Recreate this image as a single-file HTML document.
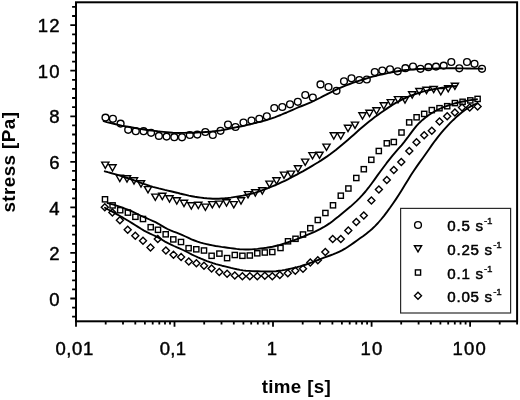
<!DOCTYPE html>
<html lang="en"><head><meta charset="utf-8"><title>stress vs time</title>
<style>html,body{margin:0;padding:0;background:#fff}svg{display:block}</style></head>
<body>
<svg width="520" height="400" viewBox="0 0 520 400">
<rect width="520" height="400" fill="#fff"/>
<g fill="none" stroke="#000" stroke-width="1.9" stroke-linecap="round" stroke-linejoin="round">
<path d="M103.7,121.2 L106.7,122.1 L109.7,122.8 L112.7,123.5 L115.7,124.2 L118.7,124.9 L121.7,125.6 L124.7,126.2 L127.7,126.8 L130.7,127.3 L133.7,127.8 L136.7,128.4 L139.7,128.9 L142.7,129.3 L145.7,129.8 L148.7,130.2 L151.7,130.6 L154.7,130.9 L157.7,131.3 L160.7,131.6 L163.7,131.9 L166.7,132.2 L169.7,132.5 L172.7,132.8 L175.7,132.9 L178.7,133.0 L181.7,132.9 L184.7,132.9 L187.7,132.8 L190.7,132.8 L193.7,132.7 L196.7,132.6 L199.7,132.4 L202.7,132.2 L205.7,132.0 L208.7,131.8 L211.7,131.5 L214.7,131.1 L217.7,130.8 L220.7,130.4 L223.7,129.9 L226.7,129.3 L229.7,128.6 L232.7,128.0 L235.7,127.4 L238.7,126.8 L241.7,126.3 L244.7,125.6 L247.7,124.9 L250.7,124.2 L253.7,123.4 L256.7,122.7 L259.7,121.9 L262.7,121.2 L265.7,120.3 L268.7,119.4 L271.7,118.4 L274.7,117.4 L277.7,116.2 L280.7,115.0 L283.7,113.7 L286.7,112.5 L289.7,111.2 L292.7,109.8 L295.7,108.5 L298.7,107.2 L301.7,106.0 L304.7,104.8 L307.7,103.6 L310.7,102.4 L313.7,101.0 L316.7,99.5 L319.7,98.0 L322.7,96.4 L325.7,94.9 L328.7,93.3 L331.7,91.8 L334.7,90.4 L337.7,88.9 L340.7,87.6 L343.7,86.3 L346.7,85.2 L349.7,84.0 L352.7,82.9 L355.7,81.9 L358.7,80.9 L361.7,79.9 L364.7,79.0 L367.7,78.1 L370.7,77.2 L373.7,76.4 L376.7,75.7 L379.7,74.9 L382.7,74.2 L385.7,73.6 L388.7,72.9 L391.7,72.3 L394.7,71.7 L397.7,71.2 L400.7,70.7 L403.7,70.3 L406.7,69.9 L409.7,69.7 L412.7,69.4 L415.7,69.2 L418.7,69.0 L421.7,68.9 L424.7,68.8 L427.7,68.7 L430.7,68.6 L433.7,68.6 L436.7,68.5 L439.7,68.4 L442.7,68.4 L445.7,68.4 L448.7,68.3 L451.7,68.3 L454.7,68.3 L457.7,68.4 L460.7,68.4 L463.7,68.4 L466.7,68.5 L469.7,68.5 L472.7,68.6 L475.7,68.6 L478.7,68.6 L481.7,68.7 L482.5,68.7"/>
<path d="M104.8,171.3 L107.8,172.2 L110.8,173.0 L113.8,173.8 L116.8,174.7 L119.8,175.6 L122.8,176.5 L125.8,177.5 L128.8,178.5 L131.8,179.5 L134.8,180.6 L137.8,181.7 L140.8,182.8 L143.8,183.9 L146.8,184.9 L149.8,185.9 L152.8,186.8 L155.8,187.6 L158.8,188.4 L161.8,189.1 L164.8,189.9 L167.8,190.6 L170.8,191.3 L173.8,192.0 L176.8,192.7 L179.8,193.5 L182.8,194.2 L185.8,194.9 L188.8,195.6 L191.8,196.2 L194.8,196.8 L197.8,197.2 L200.8,197.6 L203.8,198.0 L206.8,198.3 L209.8,198.5 L212.8,198.7 L215.8,198.7 L218.8,198.7 L221.8,198.5 L224.8,198.3 L227.8,198.0 L230.8,197.6 L233.8,197.1 L236.8,196.6 L239.8,196.1 L242.8,195.6 L245.8,195.0 L248.8,194.3 L251.8,193.6 L254.8,192.8 L257.8,191.8 L260.8,190.8 L263.8,189.7 L266.8,188.6 L269.8,187.4 L272.8,186.2 L275.8,185.0 L278.8,183.6 L281.8,182.2 L284.8,180.8 L287.8,179.3 L290.8,177.7 L293.8,176.1 L296.8,174.6 L299.8,172.9 L302.8,171.3 L305.8,169.6 L308.8,167.9 L311.8,166.1 L314.8,164.3 L317.8,162.5 L320.8,160.6 L323.8,158.6 L326.8,156.6 L329.8,154.5 L332.8,152.2 L335.8,149.9 L338.8,147.4 L341.8,144.9 L344.8,142.4 L347.8,139.9 L350.8,137.3 L353.8,134.7 L356.8,132.0 L359.8,129.3 L362.8,126.7 L365.8,124.2 L368.8,121.8 L371.8,119.4 L374.8,117.1 L377.8,114.9 L380.8,112.8 L383.8,110.7 L386.8,108.6 L389.8,106.6 L392.8,104.7 L395.8,102.9 L398.8,101.3 L401.8,99.7 L404.8,98.3 L407.8,96.9 L410.8,95.7 L413.8,94.6 L416.8,93.5 L419.8,92.6 L422.8,91.7 L425.8,90.9 L428.8,90.2 L431.8,89.6 L434.8,89.0 L437.8,88.4 L440.8,87.9 L443.8,87.5 L446.8,87.0 L449.8,86.6 L452.8,86.2 L455.8,86.0 L456.0,85.8"/>
<path d="M107.5,203.0 L110.5,203.9 L113.5,204.7 L116.5,205.6 L119.5,206.6 L122.5,207.6 L125.5,208.8 L128.5,210.0 L131.5,211.2 L134.5,212.6 L137.5,214.0 L140.5,215.5 L143.5,216.9 L146.5,218.2 L149.5,219.5 L152.5,220.8 L155.5,222.2 L158.5,223.8 L161.5,225.6 L164.5,227.4 L167.5,229.0 L170.5,230.4 L173.5,231.6 L176.5,232.7 L179.5,233.9 L182.5,235.2 L185.5,236.5 L188.5,237.9 L191.5,239.3 L194.5,240.5 L197.5,241.6 L200.5,242.6 L203.5,243.4 L206.5,244.1 L209.5,244.8 L212.5,245.4 L215.5,246.0 L218.5,246.4 L221.5,246.9 L224.5,247.3 L227.5,247.7 L230.5,248.1 L233.5,248.5 L236.5,248.9 L239.5,249.2 L242.5,249.4 L245.5,249.5 L248.5,249.5 L251.5,249.4 L254.5,249.1 L257.5,248.9 L260.5,248.5 L263.5,248.1 L266.5,247.7 L269.5,247.2 L272.5,246.7 L275.5,246.0 L278.5,245.3 L281.5,244.4 L284.5,243.5 L287.5,242.5 L290.5,241.4 L293.5,240.4 L296.5,239.3 L299.5,238.2 L302.5,237.0 L305.5,235.7 L308.5,234.4 L311.5,233.1 L314.5,231.8 L317.5,230.3 L320.5,228.8 L323.5,227.2 L326.5,225.4 L329.5,223.4 L332.5,221.2 L335.5,218.8 L338.5,216.5 L341.5,214.0 L344.5,211.6 L347.5,209.1 L350.5,206.6 L353.5,203.9 L356.5,201.1 L359.5,198.1 L362.5,194.9 L365.5,191.5 L368.5,187.7 L371.5,183.7 L374.5,179.6 L377.5,175.4 L380.5,171.3 L383.5,167.2 L386.5,163.2 L389.5,159.4 L392.5,155.6 L395.5,152.1 L398.5,148.7 L401.5,145.3 L404.5,141.6 L407.5,137.7 L410.5,133.6 L413.5,129.6 L416.5,125.9 L419.5,122.7 L422.5,119.9 L425.5,117.4 L428.5,115.3 L431.5,113.3 L434.5,111.5 L437.5,109.9 L440.5,108.5 L443.5,107.2 L446.5,106.1 L449.5,105.0 L452.5,104.1 L455.5,103.2 L458.5,102.5 L461.5,101.8 L464.5,101.2 L467.5,100.6 L470.5,100.1 L473.5,99.7 L476.5,99.4 L477.0,99.2"/>
<path d="M105.0,207.7 L108.0,209.5 L111.0,210.9 L114.0,212.6 L117.0,214.3 L120.0,216.0 L123.0,217.7 L126.0,219.5 L129.0,221.3 L132.0,223.1 L135.0,225.0 L138.0,226.9 L141.0,228.8 L144.0,230.6 L147.0,232.2 L150.0,233.7 L153.0,235.0 L156.0,236.4 L159.0,238.0 L162.0,239.8 L165.0,241.6 L168.0,243.2 L171.0,244.6 L174.0,246.0 L177.0,247.3 L180.0,248.6 L183.0,250.0 L186.0,251.5 L189.0,253.0 L192.0,254.6 L195.0,256.0 L198.0,257.4 L201.0,258.7 L204.0,259.9 L207.0,261.1 L210.0,262.2 L213.0,263.2 L216.0,264.1 L219.0,264.9 L222.0,265.7 L225.0,266.4 L228.0,267.1 L231.0,267.9 L234.0,268.6 L237.0,269.3 L240.0,269.9 L243.0,270.4 L246.0,270.7 L249.0,270.9 L252.0,271.1 L255.0,271.2 L258.0,271.3 L261.0,271.4 L264.0,271.4 L267.0,271.5 L270.0,271.5 L273.0,271.4 L276.0,271.2 L279.0,270.8 L282.0,270.4 L285.0,269.9 L288.0,269.3 L291.0,268.6 L294.0,267.9 L297.0,267.2 L300.0,266.4 L303.0,265.5 L306.0,264.5 L309.0,263.4 L312.0,262.3 L315.0,261.1 L318.0,260.0 L321.0,258.8 L324.0,257.7 L327.0,256.6 L330.0,255.5 L333.0,254.4 L336.0,253.2 L339.0,251.8 L342.0,250.4 L345.0,248.7 L348.0,246.8 L351.0,244.7 L354.0,242.6 L357.0,240.4 L360.0,238.3 L363.0,236.2 L366.0,233.9 L369.0,231.6 L372.0,229.0 L375.0,226.1 L378.0,223.0 L381.0,219.5 L384.0,215.8 L387.0,211.9 L390.0,207.8 L393.0,203.5 L396.0,199.1 L399.0,194.5 L402.0,189.7 L405.0,184.8 L408.0,179.9 L411.0,175.0 L414.0,170.5 L417.0,166.1 L420.0,161.9 L423.0,157.7 L426.0,153.5 L429.0,149.2 L432.0,144.9 L435.0,140.8 L438.0,136.9 L441.0,133.2 L444.0,129.7 L447.0,126.4 L450.0,123.2 L453.0,120.2 L456.0,117.4 L459.0,114.7 L462.0,112.3 L465.0,110.0 L468.0,108.0 L471.0,106.2 L474.0,104.7 L477.0,103.6 L477.3,102.9"/>
</g>
<g fill="none" stroke="#000" stroke-width="1.4">
<circle cx="105.5" cy="117.6" r="3.4"/>
<circle cx="112.9" cy="118.8" r="3.4"/>
<circle cx="120.6" cy="123.6" r="3.4"/>
<circle cx="128.2" cy="129.8" r="3.4"/>
<circle cx="135.8" cy="131.2" r="3.4"/>
<circle cx="143.6" cy="131.2" r="3.4"/>
<circle cx="151.1" cy="132.8" r="3.4"/>
<circle cx="158.9" cy="135.9" r="3.4"/>
<circle cx="166.6" cy="136.6" r="3.4"/>
<circle cx="174.3" cy="137.2" r="3.4"/>
<circle cx="182.0" cy="137.3" r="3.4"/>
<circle cx="189.8" cy="135.0" r="3.4"/>
<circle cx="197.3" cy="134.6" r="3.4"/>
<circle cx="205.3" cy="132.0" r="3.4"/>
<circle cx="212.8" cy="135.0" r="3.4"/>
<circle cx="220.5" cy="130.8" r="3.4"/>
<circle cx="228.0" cy="124.5" r="3.4"/>
<circle cx="235.5" cy="127.0" r="3.4"/>
<circle cx="243.5" cy="122.5" r="3.4"/>
<circle cx="251.5" cy="120.5" r="3.4"/>
<circle cx="259.3" cy="118.8" r="3.4"/>
<circle cx="266.8" cy="116.3" r="3.4"/>
<circle cx="274.3" cy="108.0" r="3.4"/>
<circle cx="282.3" cy="107.0" r="3.4"/>
<circle cx="290.0" cy="104.3" r="3.4"/>
<circle cx="297.8" cy="101.8" r="3.4"/>
<circle cx="305.3" cy="95.0" r="3.4"/>
<circle cx="312.8" cy="97.5" r="3.4"/>
<circle cx="320.5" cy="84.4" r="3.4"/>
<circle cx="328.5" cy="87.0" r="3.4"/>
<circle cx="336.5" cy="90.8" r="3.4"/>
<circle cx="344.0" cy="81.3" r="3.4"/>
<circle cx="351.5" cy="78.3" r="3.4"/>
<circle cx="359.3" cy="80.0" r="3.4"/>
<circle cx="366.8" cy="79.5" r="3.4"/>
<circle cx="374.8" cy="72.0" r="3.4"/>
<circle cx="382.3" cy="70.5" r="3.4"/>
<circle cx="390.0" cy="69.3" r="3.4"/>
<circle cx="397.7" cy="71.3" r="3.4"/>
<circle cx="405.4" cy="68.2" r="3.4"/>
<circle cx="413.0" cy="66.5" r="3.4"/>
<circle cx="420.5" cy="68.8" r="3.4"/>
<circle cx="428.4" cy="67.2" r="3.4"/>
<circle cx="436.0" cy="66.6" r="3.4"/>
<circle cx="443.7" cy="65.6" r="3.4"/>
<circle cx="451.3" cy="62.0" r="3.4"/>
<circle cx="459.3" cy="68.3" r="3.4"/>
<circle cx="467.0" cy="62.0" r="3.4"/>
<circle cx="474.5" cy="63.8" r="3.4"/>
<circle cx="482.0" cy="68.8" r="3.4"/>
<path d="M101.7,162.1H108.9L105.3,168.3Z"/>
<path d="M108.9,164.8H116.1L112.5,171.0Z"/>
<path d="M116.2,175.3H123.4L119.8,181.5Z"/>
<path d="M123.4,175.8H130.6L127.0,182.0Z"/>
<path d="M130.4,177.8H137.6L134.0,184.0Z"/>
<path d="M137.4,180.8H144.6L141.0,187.0Z"/>
<path d="M144.4,186.6H151.6L148.0,192.8Z"/>
<path d="M151.7,194.1H158.9L155.3,200.3Z"/>
<path d="M158.7,193.3H165.9L162.3,199.5Z"/>
<path d="M165.9,195.8H173.1L169.5,202.0Z"/>
<path d="M173.2,197.8H180.4L176.8,204.0Z"/>
<path d="M180.4,200.3H187.6L184.0,206.5Z"/>
<path d="M187.7,202.8H194.9L191.3,209.0Z"/>
<path d="M194.7,202.3H201.9L198.3,208.5Z"/>
<path d="M201.8,204.1H209.0L205.4,210.3Z"/>
<path d="M208.7,201.6H215.9L212.3,207.8Z"/>
<path d="M215.7,201.1H222.9L219.3,207.3Z"/>
<path d="M222.9,199.8H230.1L226.5,206.0Z"/>
<path d="M230.2,201.6H237.4L233.8,207.8Z"/>
<path d="M237.4,197.8H244.6L241.0,204.0Z"/>
<path d="M244.4,191.6H251.6L248.0,197.8Z"/>
<path d="M251.7,189.8H258.9L255.3,196.0Z"/>
<path d="M258.7,187.8H265.9L262.3,194.0Z"/>
<path d="M265.9,181.1H273.1L269.5,187.3Z"/>
<path d="M272.9,177.8H280.1L276.5,184.0Z"/>
<path d="M280.4,172.1H287.6L284.0,178.3Z"/>
<path d="M287.4,171.1H294.6L291.0,177.3Z"/>
<path d="M294.4,165.8H301.6L298.0,172.0Z"/>
<path d="M301.6,159.1H308.8L305.2,165.3Z"/>
<path d="M308.9,152.6H316.1L312.5,158.8Z"/>
<path d="M315.9,152.2H323.1L319.5,158.4Z"/>
<path d="M322.9,144.1H330.1L326.5,150.3Z"/>
<path d="M330.2,132.8H337.4L333.8,139.0Z"/>
<path d="M337.2,132.8H344.4L340.8,139.0Z"/>
<path d="M344.4,125.3H351.6L348.0,131.5Z"/>
<path d="M351.4,122.1H358.6L355.0,128.3Z"/>
<path d="M358.9,112.8H366.1L362.5,119.0Z"/>
<path d="M365.9,110.3H373.1L369.5,116.5Z"/>
<path d="M372.9,107.8H380.1L376.5,114.0Z"/>
<path d="M380.2,102.8H387.4L383.8,109.0Z"/>
<path d="M387.2,99.6H394.4L390.8,105.8Z"/>
<path d="M394.4,96.6H401.6L398.0,102.8Z"/>
<path d="M401.4,96.8H408.6L405.0,103.0Z"/>
<path d="M408.6,91.8H415.8L412.2,98.0Z"/>
<path d="M415.8,88.5H423.0L419.4,94.7Z"/>
<path d="M422.9,87.3H430.1L426.5,93.5Z"/>
<path d="M430.1,86.5H437.3L433.7,92.7Z"/>
<path d="M437.2,88.6H444.4L440.8,94.8Z"/>
<path d="M444.6,85.7H451.8L448.2,91.9Z"/>
<path d="M451.3,83.2H458.5L454.9,89.4Z"/>
<rect x="102.4" y="196.7" width="5.2" height="5.2"/>
<rect x="110.0" y="202.8" width="5.2" height="5.2"/>
<rect x="117.6" y="207.6" width="5.2" height="5.2"/>
<rect x="125.3" y="210.0" width="5.2" height="5.2"/>
<rect x="132.8" y="214.2" width="5.2" height="5.2"/>
<rect x="140.4" y="216.4" width="5.2" height="5.2"/>
<rect x="148.1" y="224.6" width="5.2" height="5.2"/>
<rect x="155.4" y="227.2" width="5.2" height="5.2"/>
<rect x="163.1" y="231.7" width="5.2" height="5.2"/>
<rect x="170.7" y="236.8" width="5.2" height="5.2"/>
<rect x="178.4" y="239.4" width="5.2" height="5.2"/>
<rect x="186.0" y="245.6" width="5.2" height="5.2"/>
<rect x="193.7" y="246.7" width="5.2" height="5.2"/>
<rect x="201.4" y="247.9" width="5.2" height="5.2"/>
<rect x="209.0" y="253.2" width="5.2" height="5.2"/>
<rect x="216.8" y="251.0" width="5.2" height="5.2"/>
<rect x="224.5" y="255.5" width="5.2" height="5.2"/>
<rect x="232.2" y="252.4" width="5.2" height="5.2"/>
<rect x="239.8" y="253.2" width="5.2" height="5.2"/>
<rect x="247.2" y="252.9" width="5.2" height="5.2"/>
<rect x="254.7" y="250.7" width="5.2" height="5.2"/>
<rect x="262.2" y="249.9" width="5.2" height="5.2"/>
<rect x="269.7" y="249.4" width="5.2" height="5.2"/>
<rect x="277.9" y="245.4" width="5.2" height="5.2"/>
<rect x="285.4" y="238.7" width="5.2" height="5.2"/>
<rect x="292.9" y="236.2" width="5.2" height="5.2"/>
<rect x="300.4" y="231.9" width="5.2" height="5.2"/>
<rect x="307.7" y="225.6" width="5.2" height="5.2"/>
<rect x="315.2" y="217.4" width="5.2" height="5.2"/>
<rect x="322.8" y="210.4" width="5.2" height="5.2"/>
<rect x="330.4" y="202.7" width="5.2" height="5.2"/>
<rect x="338.2" y="193.1" width="5.2" height="5.2"/>
<rect x="345.8" y="185.9" width="5.2" height="5.2"/>
<rect x="353.7" y="175.4" width="5.2" height="5.2"/>
<rect x="361.2" y="166.6" width="5.2" height="5.2"/>
<rect x="368.7" y="157.2" width="5.2" height="5.2"/>
<rect x="376.2" y="148.4" width="5.2" height="5.2"/>
<rect x="384.2" y="140.7" width="5.2" height="5.2"/>
<rect x="391.2" y="139.4" width="5.2" height="5.2"/>
<rect x="398.9" y="129.9" width="5.2" height="5.2"/>
<rect x="406.6" y="119.8" width="5.2" height="5.2"/>
<rect x="414.0" y="114.7" width="5.2" height="5.2"/>
<rect x="421.6" y="111.3" width="5.2" height="5.2"/>
<rect x="429.2" y="107.5" width="5.2" height="5.2"/>
<rect x="436.9" y="105.6" width="5.2" height="5.2"/>
<rect x="444.6" y="103.6" width="5.2" height="5.2"/>
<rect x="452.3" y="100.5" width="5.2" height="5.2"/>
<rect x="460.0" y="99.2" width="5.2" height="5.2"/>
<rect x="467.7" y="97.8" width="5.2" height="5.2"/>
<rect x="475.0" y="96.3" width="5.2" height="5.2"/>
<path d="M104.8,203.7L108.3,207.2L104.8,210.7L101.3,207.2Z"/>
<path d="M112.4,208.9L115.9,212.4L112.4,215.9L108.9,212.4Z"/>
<path d="M119.9,216.8L123.4,220.3L119.9,223.8L116.4,220.3Z"/>
<path d="M127.7,226.2L131.2,229.7L127.7,233.2L124.2,229.7Z"/>
<path d="M135.3,232.3L138.8,235.8L135.3,239.3L131.8,235.8Z"/>
<path d="M143.0,237.3L146.5,240.8L143.0,244.3L139.5,240.8Z"/>
<path d="M150.5,243.9L154.0,247.4L150.5,250.9L147.0,247.4Z"/>
<path d="M157.8,235.5L161.3,239.0L157.8,242.5L154.3,239.0Z"/>
<path d="M165.9,246.9L169.4,250.4L165.9,253.9L162.4,250.4Z"/>
<path d="M173.5,251.3L177.0,254.8L173.5,258.3L170.0,254.8Z"/>
<path d="M181.1,253.6L184.6,257.1L181.1,260.6L177.6,257.1Z"/>
<path d="M188.8,257.9L192.3,261.4L188.8,264.9L185.3,261.4Z"/>
<path d="M196.4,259.7L199.9,263.2L196.4,266.7L192.9,263.2Z"/>
<path d="M204.0,262.3L207.5,265.8L204.0,269.3L200.5,265.8Z"/>
<path d="M211.6,264.9L215.1,268.4L211.6,271.9L208.1,268.4Z"/>
<path d="M219.3,268.5L222.8,272.0L219.3,275.5L215.8,272.0Z"/>
<path d="M227.1,270.3L230.6,273.8L227.1,277.3L223.6,273.8Z"/>
<path d="M234.8,271.9L238.3,275.4L234.8,278.9L231.3,275.4Z"/>
<path d="M242.4,272.7L245.9,276.2L242.4,279.7L238.9,276.2Z"/>
<path d="M249.8,272.8L253.3,276.3L249.8,279.8L246.3,276.3Z"/>
<path d="M257.3,272.8L260.8,276.3L257.3,279.8L253.8,276.3Z"/>
<path d="M264.8,272.3L268.3,275.8L264.8,279.3L261.3,275.8Z"/>
<path d="M272.3,272.8L275.8,276.3L272.3,279.8L268.8,276.3Z"/>
<path d="M279.8,271.5L283.3,275.0L279.8,278.5L276.3,275.0Z"/>
<path d="M287.8,269.8L291.3,273.3L287.8,276.8L284.3,273.3Z"/>
<path d="M295.3,267.3L298.8,270.8L295.3,274.3L291.8,270.8Z"/>
<path d="M303.0,265.3L306.5,268.8L303.0,272.3L299.5,268.8Z"/>
<path d="M310.3,259.0L313.8,262.5L310.3,266.0L306.8,262.5Z"/>
<path d="M317.8,256.8L321.3,260.3L317.8,263.8L314.3,260.3Z"/>
<path d="M325.3,248.5L328.8,252.0L325.3,255.5L321.8,252.0Z"/>
<path d="M332.7,235.5L336.2,239.0L332.7,242.5L329.2,239.0Z"/>
<path d="M340.8,235.5L344.3,239.0L340.8,242.5L337.3,239.0Z"/>
<path d="M348.3,227.1L351.8,230.6L348.3,234.1L344.8,230.6Z"/>
<path d="M356.3,218.5L359.8,222.0L356.3,225.5L352.8,222.0Z"/>
<path d="M363.8,211.9L367.3,215.4L363.8,218.9L360.3,215.4Z"/>
<path d="M371.4,197.0L374.9,200.5L371.4,204.0L367.9,200.5Z"/>
<path d="M378.9,186.0L382.4,189.5L378.9,193.0L375.4,189.5Z"/>
<path d="M386.8,176.5L390.3,180.0L386.8,183.5L383.3,180.0Z"/>
<path d="M393.8,166.5L397.3,170.0L393.8,173.5L390.3,170.0Z"/>
<path d="M401.3,158.5L404.8,162.0L401.3,165.5L397.8,162.0Z"/>
<path d="M409.3,147.5L412.8,151.0L409.3,154.5L405.8,151.0Z"/>
<path d="M416.5,138.7L420.0,142.2L416.5,145.7L413.0,142.2Z"/>
<path d="M424.2,131.8L427.7,135.3L424.2,138.8L420.7,135.3Z"/>
<path d="M431.8,127.2L435.3,130.7L431.8,134.2L428.3,130.7Z"/>
<path d="M439.5,118.1L443.0,121.6L439.5,125.1L436.0,121.6Z"/>
<path d="M447.2,112.7L450.7,116.2L447.2,119.7L443.7,116.2Z"/>
<path d="M454.9,108.9L458.4,112.4L454.9,115.9L451.4,112.4Z"/>
<path d="M462.0,104.1L465.5,107.6L462.0,111.1L458.5,107.6Z"/>
<path d="M469.7,104.1L473.2,107.6L469.7,111.1L466.2,107.6Z"/>
<path d="M477.6,103.1L481.1,106.6L477.6,110.1L474.1,106.6Z"/>
</g>
<rect x="76.0" y="2.3" width="441.1" height="319.0" fill="none" stroke="#000" stroke-width="2"/>
<path d="M72.1,316.7H76.0M72.1,307.6H76.0M70.3,298.5H76.0M72.1,289.4H76.0M72.1,280.3H76.0M72.1,271.2H76.0M72.1,262.1H76.0M70.3,252.9H76.0M72.1,243.8H76.0M72.1,234.7H76.0M72.1,225.6H76.0M72.1,216.5H76.0M70.3,207.4H76.0M72.1,198.3H76.0M72.1,189.2H76.0M72.1,180.0H76.0M72.1,170.9H76.0M70.3,161.8H76.0M72.1,152.7H76.0M72.1,143.6H76.0M72.1,134.5H76.0M72.1,125.4H76.0M70.3,116.3H76.0M72.1,107.1H76.0M72.1,98.0H76.0M72.1,88.9H76.0M72.1,79.8H76.0M70.3,70.7H76.0M72.1,61.6H76.0M72.1,52.5H76.0M72.1,43.4H76.0M72.1,34.3H76.0M70.3,25.1H76.0M72.1,16.0H76.0M72.1,6.9H76.0M76.0,321.3V326.7M105.7,321.3V324.5M123.0,321.3V324.5M135.3,321.3V324.5M144.9,321.3V324.5M152.7,321.3V324.5M159.3,321.3V324.5M165.0,321.3V324.5M170.0,321.3V324.5M174.5,321.3V326.7M204.2,321.3V324.5M221.5,321.3V324.5M233.8,321.3V324.5M243.4,321.3V324.5M251.2,321.3V324.5M257.8,321.3V324.5M263.5,321.3V324.5M268.5,321.3V324.5M273.0,321.3V326.7M302.7,321.3V324.5M320.0,321.3V324.5M332.4,321.3V324.5M341.9,321.3V324.5M349.7,321.3V324.5M356.3,321.3V324.5M362.0,321.3V324.5M367.1,321.3V324.5M371.6,321.3V326.7M401.2,321.3V324.5M418.6,321.3V324.5M430.9,321.3V324.5M440.4,321.3V324.5M448.2,321.3V324.5M454.8,321.3V324.5M460.5,321.3V324.5M465.6,321.3V324.5M470.1,321.3V326.7M499.7,321.3V324.5M517.1,321.3V324.5" stroke="#000" stroke-width="1.8" fill="none"/>
<g font-family="'Liberation Sans', Arial, sans-serif" font-size="18.5" fill="#000" stroke="#000" stroke-width="0.45">
<text x="60.8" y="32.2" text-anchor="end" letter-spacing="1.2">12</text>
<text x="60.8" y="77.8" text-anchor="end" letter-spacing="1.2">10</text>
<text x="60.8" y="123.4" text-anchor="end" letter-spacing="1.2">8</text>
<text x="60.8" y="168.9" text-anchor="end" letter-spacing="1.2">6</text>
<text x="60.8" y="214.5" text-anchor="end" letter-spacing="1.2">4</text>
<text x="60.8" y="260.0" text-anchor="end" letter-spacing="1.2">2</text>
<text x="60.8" y="305.6" text-anchor="end" letter-spacing="1.2">0</text>
<text x="74.6" y="354.8" text-anchor="middle" letter-spacing="0.6">0,01</text>
<text x="173.1" y="354.8" text-anchor="middle" letter-spacing="0.3">0,1</text>
<text x="272.0" y="354.8" text-anchor="middle" letter-spacing="0">1</text>
<text x="372.1" y="354.8" text-anchor="middle" letter-spacing="1.2">10</text>
<text x="469.8" y="354.8" text-anchor="middle" letter-spacing="1.2">100</text>
</g>
<g font-family="'Liberation Sans', Arial, sans-serif" font-size="18.5" font-weight="bold" fill="#000">
<text x="296.4" y="393.4" text-anchor="middle" font-size="18.8" letter-spacing="0.3">time [s]</text>
<text transform="translate(14.6,162.1) rotate(-90)" text-anchor="middle" font-size="18.8" letter-spacing="0.45">stress [Pa]</text>
</g>
<rect x="400.6" y="208.4" width="110.0" height="104.6" fill="#fff" stroke="#2a2a2a" stroke-width="1.2"/>
<g fill="none" stroke="#000" stroke-width="1.4">
<circle cx="418.0" cy="225.0" r="3.4"/>
<path d="M414.4,245.7H421.6L418.0,251.9Z"/>
<rect x="415.4" y="269.9" width="5.2" height="5.2"/>
<path d="M418.0,292.3L421.5,295.8L418.0,299.3L414.5,295.8Z"/>
</g>
<g font-family="'Liberation Sans', Arial, sans-serif" font-size="15.1" fill="#000" stroke="#000" stroke-width="0.5">
<text x="447.3" y="231.3" letter-spacing="0.75">0.5 s<tspan font-size="9.8" dy="-6.9" dx="0.3" letter-spacing="-0.3" stroke-width="0.35">-1</tspan></text>
<text x="447.3" y="255" letter-spacing="0.75">0.25 s<tspan font-size="9.8" dy="-6.9" dx="0.3" letter-spacing="-0.3" stroke-width="0.35">-1</tspan></text>
<text x="447.3" y="278.6" letter-spacing="0.75">0.1 s<tspan font-size="9.8" dy="-6.9" dx="0.3" letter-spacing="-0.3" stroke-width="0.35">-1</tspan></text>
<text x="447.3" y="302.2" letter-spacing="0.75">0.05 s<tspan font-size="9.8" dy="-6.9" dx="0.3" letter-spacing="-0.3" stroke-width="0.35">-1</tspan></text>
</g>
</svg>
</body></html>
